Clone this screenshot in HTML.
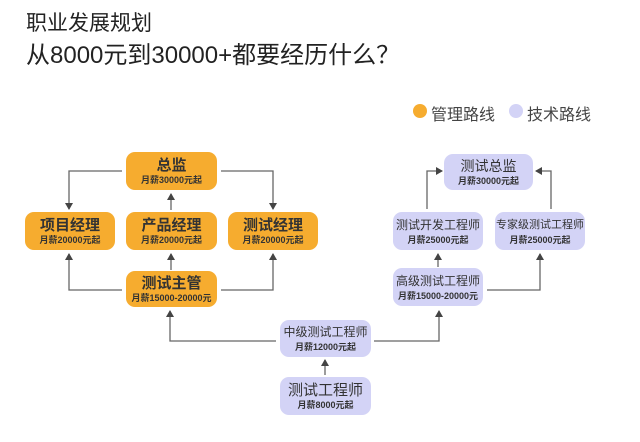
<!DOCTYPE html>
<html><head><meta charset="utf-8"><style>
body{margin:0;width:640px;height:442px;background:#fff;position:relative;overflow:hidden;font-family:"Liberation Sans","Noto Sans CJK SC",sans-serif;color:#333}
.t{position:absolute;left:26px;color:#222;white-space:nowrap}
.b{position:absolute;border-radius:9px;text-align:center;box-sizing:border-box;display:flex;flex-direction:column;justify-content:center;align-items:center;color:#333}
.o{background:#f6ac2f}
.p{background:#d3d3f6}
.b .a{font-size:15px;font-weight:bold;line-height:17px;white-space:nowrap}
.b .s{font-size:9px;font-weight:bold;line-height:12px;white-space:nowrap}
.p .a{font-weight:normal;font-size:12px}
svg{position:absolute;left:0;top:0}
</style></head><body>
<div class="t" style="top:7px;font-size:21px">职业发展规划</div>
<div class="t" style="top:35px;font-size:24px">从8000元到30000+都要经历什么？</div>
<div style="position:absolute;left:413px;top:104px;width:14px;height:14px;border-radius:50%;background:#f6ac2f"></div>
<div style="position:absolute;left:431px;top:101px;font-size:16px;color:#444">管理路线</div>
<div style="position:absolute;left:509px;top:104px;width:14px;height:14px;border-radius:50%;background:#d3d3f6"></div>
<div style="position:absolute;left:527px;top:101px;font-size:16px;color:#444">技术路线</div>
<svg width="640" height="442" viewBox="0 0 640 442">
<defs><marker id="m" markerWidth="8" markerHeight="8" refX="6" refY="4" orient="auto" markerUnits="userSpaceOnUse"><path d="M0,0 L7,4 L0,8 z" fill="#444"/></marker></defs>
<g stroke="#666" stroke-width="1.3" fill="none" marker-end="url(#m)">
<polyline points="122,171 69,171 69,209"/>
<polyline points="221,171 273,171 273,209"/>
<polyline points="171,210 171,194"/>
<polyline points="171,270 171,254"/>
<polyline points="122,290 69,290 69,254"/>
<polyline points="221,290 273,290 273,254"/>
<polyline points="427,209 427,171 442,171"/>
<polyline points="551,209 551,171 536,171"/>
<polyline points="438,267 438,254"/>
<polyline points="487,290 540,290 540,254"/>
<polyline points="276,341 170,341 170,311"/>
<polyline points="374,341 439,341 439,311"/>
<polyline points="325,375 325,360"/>
</g></svg>
<div class="b o" style="left:126px;top:152px;width:91px;height:38px"><div class="a">总监</div><div class="s">月薪30000元起</div></div>
<div class="b o" style="left:25px;top:212px;width:90px;height:38px"><div class="a">项目经理</div><div class="s">月薪20000元起</div></div>
<div class="b o" style="left:126px;top:212px;width:91px;height:38px"><div class="a">产品经理</div><div class="s">月薪20000元起</div></div>
<div class="b o" style="left:228px;top:212px;width:90px;height:38px"><div class="a">测试经理</div><div class="s">月薪20000元起</div></div>
<div class="b o" style="left:126px;top:271px;width:91px;height:36px"><div class="a">测试主管</div><div class="s">月薪15000-20000元</div></div>
<div class="b p" style="left:444px;top:154px;width:89px;height:36px"><div class="a" style="font-size:14px">测试总监</div><div class="s">月薪30000元起</div></div>
<div class="b p" style="left:393px;top:212px;width:90px;height:38px"><div class="a">测试开发工程师</div><div class="s">月薪25000元起</div></div>
<div class="b p" style="left:495px;top:212px;width:90px;height:38px"><div class="a" style="font-size:11px">专家级测试工程师</div><div class="s">月薪25000元起</div></div>
<div class="b p" style="left:393px;top:268px;width:90px;height:38px"><div class="a">高级测试工程师</div><div class="s">月薪15000-20000元</div></div>
<div class="b p" style="left:280px;top:320px;width:91px;height:37px"><div class="a">中级测试工程师</div><div class="s">月薪12000元起</div></div>
<div class="b p" style="left:280px;top:377px;width:91px;height:38px"><div class="a" style="font-size:15px">测试工程师</div><div class="s">月薪8000元起</div></div>
</body></html>
